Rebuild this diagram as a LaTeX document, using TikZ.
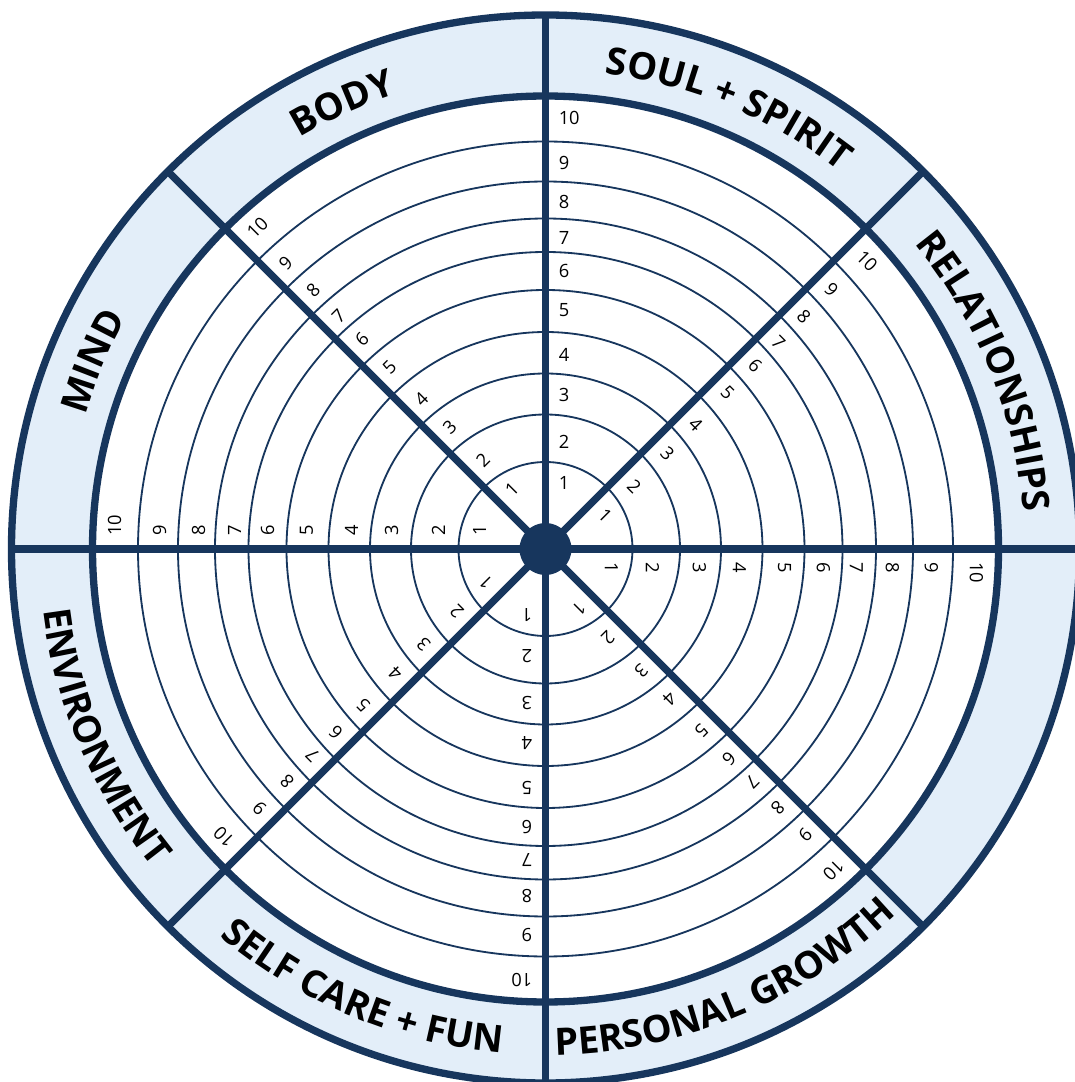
\documentclass[tikz,border=0pt]{standalone}
\usepackage{fontspec}
\setmainfont{Open Sans}
\usetikzlibrary{calc, decorations.text}

\definecolor{hjulbla}{RGB}{23,54,93}
\definecolor{feltbla}{RGB}{227,238,249}

\begin{document}
\begin{tikzpicture}[x=0.025cm, y=0.025cm,
    ring/.style={draw=hjulbla, line width=1.3pt},
    tykk/.style={draw=hjulbla, line width=5.2pt},
    tall/.style={font=\fontsize{13}{15}\selectfont, inner sep=0pt, anchor=west},
    felt/.style={decorate, decoration={text along path, text align=center,
      text={|\bfseries\fontsize{26.8}{30}\selectfont|#1}}}]
  \useasboundingbox (-545.5,-533) rectangle (529.5,549);
  \clip (-545.5,-533) rectangle (529.5,549);
  % Feltring
  \fill[feltbla, even odd rule] (0,0) circle (534) (0,0) circle (453);
  % Skalaringer 1--9
  \foreach \r in {87,134.5,175.5,217,259,297,330.5,367.5,407.5}
    \draw[ring] (0,0) circle (\r);
  % Eiker
  \foreach \a in {0,45,...,315}
    \draw[tykk] (0,0) -- (\a:534);
  % Indre og ytre sirkel
  \draw[tykk] (0,0) circle (453);
  \draw[tykk] (0,0) circle (534);
  % Nav
  \fill[hjulbla] (0,0) circle (26);
  % Tall langs eikene
  \foreach \a in {0,45,...,315}
    \foreach \k/\r in {1/66,2/107,3/154,4/194,5/239,6/278,7/311,8/347,9/386,10/431}
      \node[tall, rotate=\a-90] (n\a-\k) at ($(\a:\r)+({\a-90}:13)$) {\k};
  % Omraadenavn, oeverst (lest med klokka)
  \path[felt={MIND}] (197.5:479) arc[start angle=197.5, end angle=117.5, radius=479];
  \path[felt={BODY}] (154.5:479) arc[start angle=154.5, end angle=74.5, radius=479];
  \path[felt={SOUL + SPIRIT}] (107.5:479) arc[start angle=107.5, end angle=27.5, radius=479];
  \path[felt={RELATIONSHIPS}] (62:479) arc[start angle=62, end angle=-18, radius=479];
  % Omraadenavn, nederst (lest mot klokka)
  \path[felt={ENVIRONMENT}] (163:506) arc[start angle=163, end angle=243, radius=506];
  \path[felt={SELF CARE + FUN}] (207.5:506) arc[start angle=207.5, end angle=287.5, radius=506];
  \path[felt={PERSONAL GROWTH}] (252.5:506) arc[start angle=252.5, end angle=332.5, radius=506];
\end{tikzpicture}
\end{document}
